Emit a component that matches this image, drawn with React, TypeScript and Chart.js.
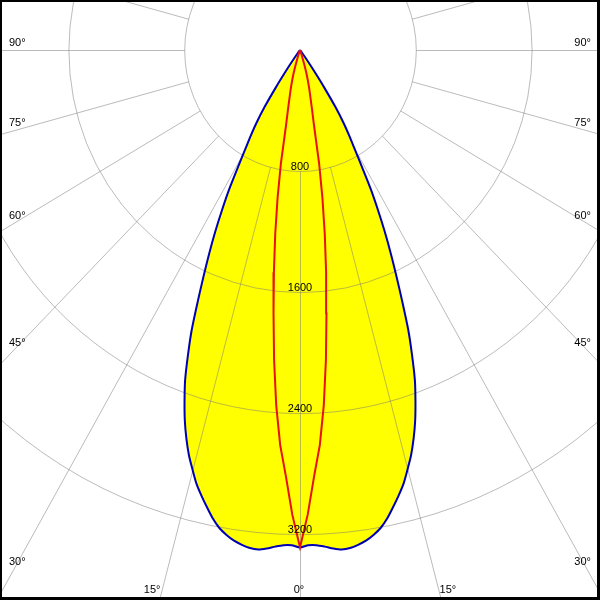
import { useEffect, useRef } from "react";
import { Chart, registerables } from "chart.js";

Chart.register(...registerables);

// Polar angles (degrees from nadir) and luminous intensity (cd) for the two C-planes
const ANGLES = [
  0, 1, 2, 3, 4, 5, 6, 7, 8, 9, 10, 11, 12, 13, 14, 15, 16, 17, 18, 19, 20,
  21, 22, 23, 24, 25, 26, 27, 28, 29, 30, 31, 32, 33, 34, 35, 36, 37, 38, 39, 40,
  45, 50, 60, 70, 80, 90,
];
const WIDE_PLANE_CD = [
  3288, 3274, 3275, 3287, 3303, 3314, 3310, 3295, 3275, 3245, 3208,
  3155, 3090, 3024, 2955, 2870, 2785, 2685, 2575, 2450, 2320,
  2160, 1998, 1810, 1640, 1485, 1335, 1185, 1040, 880, 755,
  660, 565, 450, 300, 170, 80, 25, 0, 0, 0,
  0, 0, 0, 0, 0, 0,
];
const NARROW_PLANE_CD = [
  3288, 3070, 2815, 2615, 2355, 2055, 1750, 1480, 1230, 990, 760,
  505, 395, 318, 265, 212, 165, 112, 62, 25, 0,
  0, 0, 0, 0, 0, 0, 0, 0, 0, 0,
  0, 0, 0, 0, 0, 0, 0, 0, 0, 0,
  0, 0, 0, 0, 0, 0,
];
const RING_VALUES = [800, 1600, 2400, 3200];
const SIDE_ANGLE_LABELS = [90, 75, 60, 45, 30];
const BOTTOM_SIDE_LABEL = 15;
const CENTER_LABEL = 0;
const SPOKE_STEP = 15;

// Axis extents (cd) so that the canvas shows the diagram as in the reference
const X_MIN = -2072.5;
const X_MAX = 2072.5;
const Y_MIN = -3635.2;
const Y_MAX = 330.5;

const YELLOW = "#ffff00";
const BLUE = "#0000b4";
const RED = "#e81010";
const GRID = "rgba(120,120,120,0.5)";
const FONT = "11px 'Liberation Sans', Arial, sans-serif";

function toCurve(angles: number[], values: number[]) {
  const pts: { x: number; y: number }[] = [];
  for (let i = angles.length - 1; i >= 0; i--) {
    const t = (angles[i] * Math.PI) / 180;
    pts.push({ x: -values[i] * Math.sin(t), y: -values[i] * Math.cos(t) });
  }
  for (let i = 1; i < angles.length; i++) {
    const t = (angles[i] * Math.PI) / 180;
    pts.push({ x: values[i] * Math.sin(t), y: -values[i] * Math.cos(t) });
  }
  return pts;
}

const gridPlugin = {
  id: "polarGrid",
  beforeDraw(chart: any) {
    const ctx = chart.ctx;
    ctx.save();
    ctx.fillStyle = "#ffffff";
    ctx.fillRect(0, 0, chart.width, chart.height);
    ctx.restore();
  },
  afterDatasetDraw(chart: any, args: any) {
    if (args.index !== 0) return;
    const ctx = chart.ctx;
    const xs = chart.scales.x;
    const ys = chart.scales.y;
    const cx = xs.getPixelForValue(0);
    const cy = ys.getPixelForValue(0);
    ctx.save();
    ctx.translate(0.5, 0.5);
    ctx.strokeStyle = GRID;
    ctx.lineWidth = 1;
    for (const r of RING_VALUES) {
      const rx = xs.getPixelForValue(r) - cx;
      const ry = ys.getPixelForValue(-r) - cy;
      ctx.beginPath();
      ctx.ellipse(cx, cy, rx, ry, 0, 0, Math.PI * 2);
      ctx.stroke();
    }
    const r0 = RING_VALUES[0];
    const r1 = 20000;
    for (let a = 0; a < 360; a += SPOKE_STEP) {
      const t = (a * Math.PI) / 180;
      ctx.beginPath();
      ctx.moveTo(xs.getPixelForValue(r0 * Math.sin(t)), ys.getPixelForValue(-r0 * Math.cos(t)));
      ctx.lineTo(xs.getPixelForValue(r1 * Math.sin(t)), ys.getPixelForValue(-r1 * Math.cos(t)));
      ctx.stroke();
    }
    ctx.restore();
  },
  afterDraw(chart: any) {
    const ctx = chart.ctx;
    const xs = chart.scales.x;
    const ys = chart.scales.y;
    const cx = xs.getPixelForValue(0);
    const cy = ys.getPixelForValue(0);
    const pxX = xs.getPixelForValue(1) - cx;
    const pxY = ys.getPixelForValue(-1) - cy;
    const W = chart.width;
    const H = chart.height;
    ctx.save();
    ctx.font = FONT;
    ctx.fillStyle = "#000000";
    ctx.textBaseline = "alphabetic";
    // side angle labels
    for (const a of SIDE_ANGLE_LABELS) {
      const t = (a * Math.PI) / 180;
      const dx = Math.sin(t) * pxX;
      const dy = Math.cos(t) * pxY;
      const k = (cx - 13.3) / dx;
      const y = cy + k * dy - 4;
      ctx.textAlign = "left";
      ctx.fillText(a + "°", 9, y);
      ctx.textAlign = "right";
      ctx.fillText(a + "°", W - 9, y);
    }
    // bottom angle labels
    {
      const t = (BOTTOM_SIDE_LABEL * Math.PI) / 180;
      const dx = Math.sin(t) * pxX;
      const dy = Math.cos(t) * pxY;
      const k = (H - 13.3 - cy) / dy;
      const off = k * dx;
      ctx.textAlign = "right";
      ctx.fillText(BOTTOM_SIDE_LABEL + "°", cx - off - 2, H - 7);
      ctx.textAlign = "left";
      ctx.fillText(BOTTOM_SIDE_LABEL + "°", cx + off + 2, H - 7);
      ctx.textAlign = "center";
      ctx.fillText(CENTER_LABEL + "°", cx - 1, H - 7);
    }
    // ring value labels
    ctx.textAlign = "center";
    for (const r of RING_VALUES) {
      const y = ys.getPixelForValue(-r);
      ctx.fillText(String(r), cx, y - 1.5);
    }
    // frame
    ctx.fillStyle = "#000000";
    ctx.fillRect(0, 0, W, 2);
    ctx.fillRect(0, 0, 2, H);
    ctx.fillRect(W - 3, 0, 3, H);
    ctx.fillRect(0, H - 3, W, 3);
    ctx.restore();
  },
};

export default function App() {
  const ref = useRef<HTMLCanvasElement | null>(null);
  useEffect(() => {
    if (!ref.current) return;
    const wide = toCurve(ANGLES, WIDE_PLANE_CD);
    const narrow = toCurve(ANGLES, NARROW_PLANE_CD);
    const chart = new Chart(ref.current, {
      type: "scatter",
      data: {
        datasets: [
          {
            data: wide,
            showLine: true,
            fill: "shape",
            backgroundColor: YELLOW,
            borderColor: "rgba(0,0,0,0)",
            borderWidth: 0,
            pointRadius: 0,
            tension: 0.25,
            order: 3,
          } as any,
          {
            data: wide,
            showLine: true,
            fill: false,
            borderColor: BLUE,
            borderWidth: 2,
            pointRadius: 0,
            tension: 0.25,
            order: 2,
          },
          {
            data: narrow,
            showLine: true,
            fill: false,
            borderColor: RED,
            borderWidth: 2,
            pointRadius: 0,
            tension: 0,
            order: 1,
          },
        ],
      },
      options: {
        animation: false,
        responsive: false,
        devicePixelRatio: 1,
        layout: { padding: 0 },
        plugins: { legend: { display: false }, tooltip: { enabled: false } },
        events: [],
        scales: {
          x: { type: "linear", min: X_MIN, max: X_MAX, display: false },
          y: { type: "linear", min: Y_MIN, max: Y_MAX, display: false },
        },
      },
      plugins: [gridPlugin],
    });
    return () => chart.destroy();
  }, []);
  return (
    <div style={{ position: "fixed", left: 0, top: 0, width: 600, height: 600 }}>
      <canvas ref={ref} width={600} height={600} style={{ display: "block" }} />
    </div>
  );
}
